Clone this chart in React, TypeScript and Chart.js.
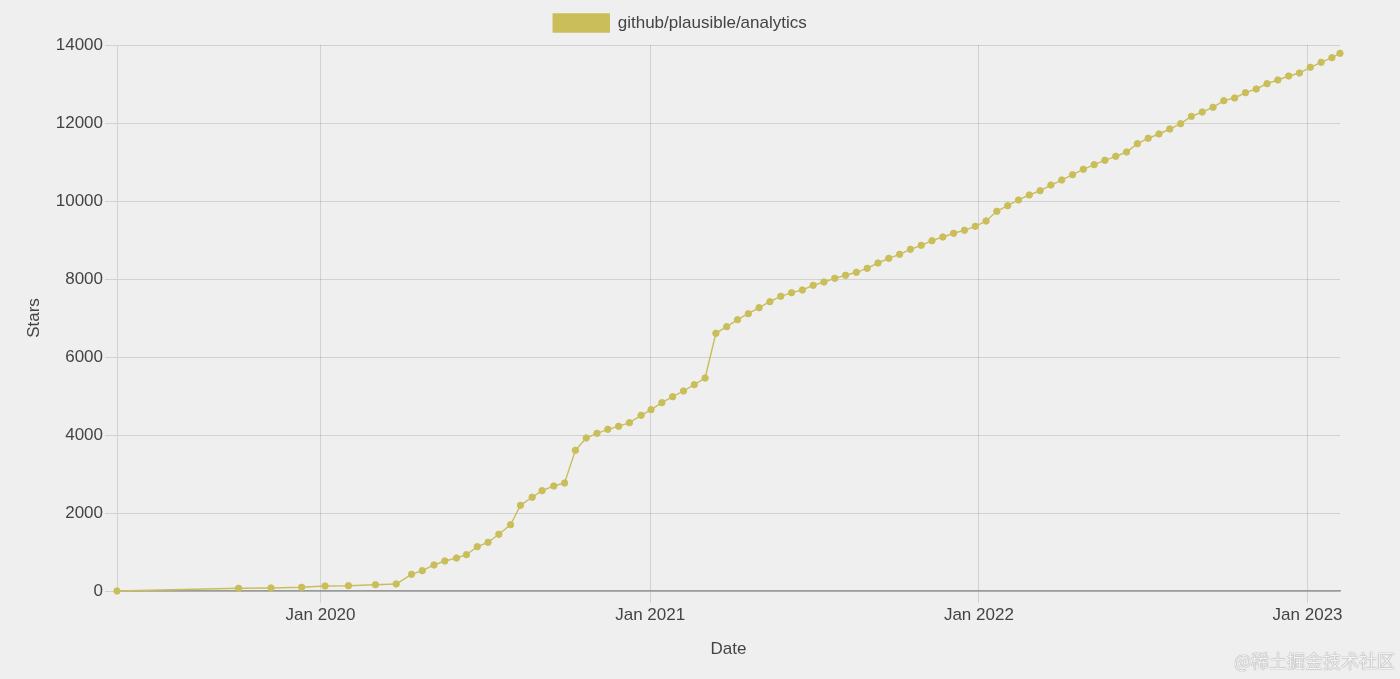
import React, { useEffect, useRef } from "react";
import Chart from "chart.js/auto";

const DATES: string[] = [
  "2019-05-20", "2019-10-02", "2019-11-07", "2019-12-11", "2020-01-06", "2020-02-01",
  "2020-03-02", "2020-03-25", "2020-04-11", "2020-04-23", "2020-05-06", "2020-05-18",
  "2020-05-31", "2020-06-11", "2020-06-23", "2020-07-05", "2020-07-17", "2020-07-30",
  "2020-08-10", "2020-08-23", "2020-09-03", "2020-09-16", "2020-09-28", "2020-10-10",
  "2020-10-22", "2020-11-03", "2020-11-15", "2020-11-27", "2020-12-09", "2020-12-22",
  "2021-01-02", "2021-01-14", "2021-01-26", "2021-02-07", "2021-02-19", "2021-03-03",
  "2021-03-15", "2021-03-27", "2021-04-08", "2021-04-20", "2021-05-02", "2021-05-14",
  "2021-05-26", "2021-06-07", "2021-06-19", "2021-07-01", "2021-07-13", "2021-07-25",
  "2021-08-06", "2021-08-18", "2021-08-30", "2021-09-11", "2021-09-23", "2021-10-05",
  "2021-10-17", "2021-10-29", "2021-11-10", "2021-11-22", "2021-12-04", "2021-12-16",
  "2021-12-28", "2022-01-09", "2022-01-21", "2022-02-02", "2022-02-14", "2022-02-26",
  "2022-03-10", "2022-03-22", "2022-04-03", "2022-04-15", "2022-04-27", "2022-05-09",
  "2022-05-21", "2022-06-02", "2022-06-14", "2022-06-26", "2022-07-08", "2022-07-20",
  "2022-08-01", "2022-08-13", "2022-08-25", "2022-09-06", "2022-09-18", "2022-09-30",
  "2022-10-12", "2022-10-24", "2022-11-05", "2022-11-17", "2022-11-29", "2022-12-11",
  "2022-12-23", "2023-01-04", "2023-01-16", "2023-01-28", "2023-02-06",
];

const STARS: number[] = [
  0, 69, 77, 95, 128, 136,
  162, 180, 428, 521, 667, 769,
  846, 931, 1136, 1249, 1454, 1700,
  2197, 2403, 2572, 2692, 2769, 3608,
  3923, 4044, 4146, 4223, 4315, 4505,
  4649, 4828, 4982, 5128, 5290, 5462,
  6608, 6777, 6956, 7110, 7264, 7418,
  7556, 7649, 7718, 7838, 7923, 8018,
  8095, 8172, 8274, 8410, 8531, 8633,
  8762, 8864, 8982, 9077, 9172, 9249,
  9351, 9487, 9736, 9879, 10026, 10154,
  10264, 10410, 10538, 10674, 10813, 10931,
  11044, 11146, 11256, 11469, 11608, 11718,
  11846, 11982, 12170, 12282, 12403, 12572,
  12641, 12777, 12872, 13008, 13103, 13205,
  13282, 13428, 13556, 13674, 13787,
];

const TICK_DATES: string[] = ["2020-01-01", "2021-01-01", "2022-01-01", "2023-01-01"];
const TICK_LABELS: string[] = ["Jan 2020", "Jan 2021", "Jan 2022", "Jan 2023"];

const SERIES_LABEL = "github/plausible/analytics";
const COLOR = "rgb(201,190,90)";
const FONT = "'Liberation Sans', Arial, Helvetica, sans-serif";
const TEXT = "#444";
const GRID = "rgba(0,0,0,0.12)";

const toMs = (s: string) => {
  const [y, m, d] = s.split("-").map(Number);
  return Date.UTC(y, m - 1, d);
};

const legendGap = {
  id: "legendGap",
  beforeUpdate(chart: any) {
    const lg = chart.legend;
    if (lg && !lg._gapPatched) {
      const orig = lg.fit;
      lg.fit = function () {
        orig.call(this);
        this.height += 3;
      };
      lg._gapPatched = true;
    }
  },
};

export default function App() {
  const ref = useRef<HTMLCanvasElement | null>(null);

  useEffect(() => {
    if (!ref.current) return;
    const points = DATES.map((d, i) => ({ x: toMs(d), y: STARS[i] }));
    const tickVals = TICK_DATES.map(toMs);
    const chart = new Chart(ref.current, {
      type: "line",
      data: {
        datasets: [
          {
            label: SERIES_LABEL,
            data: points,
            borderColor: COLOR,
            backgroundColor: COLOR,
            pointBackgroundColor: COLOR,
            pointBorderColor: COLOR,
            borderWidth: 1.4,
            pointRadius: 3.2,
            pointBorderWidth: 1,
            tension: 0,
            fill: false,
            clip: false,
          },
        ],
      },
      plugins: [legendGap],
      options: {
        responsive: false,
        animation: false,
        devicePixelRatio: 1,
        layout: { padding: { left: 20, right: 60, top: 2, bottom: 10 } },
        plugins: {
          legend: {
            display: true,
            position: "top",
            labels: {
              boxWidth: 56,
              boxHeight: 18,
              color: TEXT,
              font: { family: FONT, size: 17 },
              padding: 12,
            },
          },
          tooltip: { enabled: false },
        },
        scales: {
          x: {
            type: "linear",
            min: points[0].x,
            max: points[points.length - 1].x,
            afterBuildTicks: (scale: any) => {
              scale.ticks = tickVals.map((v) => ({ value: v }));
            },
            afterFit: (scale: any) => {
              scale.height = 679 - 591 - 10;
            },
            ticks: {
              autoSkip: false,
              maxRotation: 0,
              color: TEXT,
              font: { family: FONT, size: 17 },
              padding: 2,
              callback: (v: any) => {
                const i = tickVals.indexOf(Number(v));
                return i >= 0 ? TICK_LABELS[i] : "";
              },
            },
            grid: {
              color: GRID,
              tickLength: 12,
              lineWidth: 1,
            },
            border: { display: true, color: "rgba(0,0,0,0.35)", width: 1.4 },
            title: {
              display: true,
              text: "Date",
              color: TEXT,
              font: { family: FONT, size: 17 },
              padding: { top: 0, bottom: 9 },
            },
          },
          y: {
            min: 0,
            max: 14000,
            afterFit: (scale: any) => {
              scale.width = 117 - 20;
            },
            ticks: {
              stepSize: 2000,
              color: TEXT,
              font: { family: FONT, size: 17 },
              padding: 2,
              callback: (v: any) => String(v),
            },
            grid: {
              color: GRID,
              tickLength: 12,
            },
            border: { display: true, color: GRID },
            title: {
              display: true,
              text: "Stars",
              color: TEXT,
              font: { family: FONT, size: 17 },
              padding: { top: 4, bottom: 0 },
            },
          },
        },
      },
    });
    return () => chart.destroy();
  }, []);

  return (
    <div
      style={{
        position: "absolute",
        left: 0,
        top: 0,
        width: 1400,
        height: 679,
        background: "#efefef",
        overflow: "hidden",
      }}
    >
      <canvas ref={ref} width={1400} height={679} style={{ display: "block" }} />
      <span
        style={{
          position: "absolute",
          right: 5,
          bottom: 6,
          fontFamily: "'Noto Sans CJK SC', sans-serif",
          fontSize: 18,
          color: "#f2f2f2",
          textShadow: "0 0 1px #999, 0 0 1px #999",
        }}
      >
        @稀土掘金技术社区
      </span>
    </div>
  );
}
